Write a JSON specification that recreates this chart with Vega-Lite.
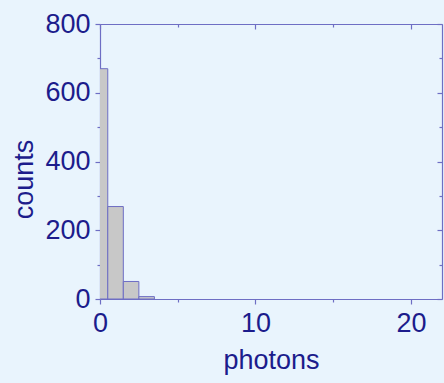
{
  "$schema": "https://vega.github.io/schema/vega-lite/v6.json",
  "width": 342,
  "height": 275,
  "autosize": {"type": "none"},
  "padding": {"left": 100, "top": 24, "right": 2, "bottom": 84},
  "background": "#e9f4fd",
  "config": {
    "view": {"stroke": null},
    "font": "Liberation Sans",
    "axis": {
      "domainColor": "#6e6ec4",
      "tickColor": "#6e6ec4",
      "labelColor": "#1c1c8c",
      "titleColor": "#1c1c8c",
      "labelFont": "Liberation Sans",
      "titleFont": "Liberation Sans",
      "labelFontSize": 27,
      "titleFontSize": 27,
      "titleFontWeight": "normal",
      "grid": false,
      "domainWidth": 1.2,
      "tickWidth": 1.2
    }
  },
  "data": {"values": [
    {"lo": -0.5, "hi": 0.5, "count": 670},
    {"lo": 0.5, "hi": 1.5, "count": 269},
    {"lo": 1.5, "hi": 2.5, "count": 51},
    {"lo": 2.5, "hi": 3.5, "count": 7}
  ]},
  "resolve": {"axis": {"x": "independent", "y": "independent"}},
  "layer": [
    {
      "mark": {"type": "bar", "clip": true, "fill": "#c8c8c8", "stroke": "#6e6ec4", "strokeWidth": 1},
      "encoding": {
        "x": {"field": "lo", "type": "quantitative", "scale": {"domain": [0, 22], "nice": false, "zero": false, "padding": 0},
          "axis": {"orient": "bottom", "values": [0, 10, 20], "tickSize": 5, "labelPadding": 6, "title": "photons", "titleY": 69, "titleBaseline": "alphabetic", "labelFlush": false, "labelOverlap": false}},
        "x2": {"field": "hi"},
        "y": {"field": "count", "type": "quantitative", "scale": {"domain": [0, 800], "nice": false, "padding": 0},
          "axis": {"orient": "left", "values": [0, 200, 400, 600, 800], "tickSize": 5, "labelPadding": 5, "title": "counts", "titleX": -68, "titleY": 155, "titleBaseline": "alphabetic", "titleAngle": -90, "titleAlign": "center", "labelFlush": false, "labelOverlap": false}},
        "y2": {"datum": 0}
      }
    },
    {
      "mark": {"type": "point", "opacity": 0},
      "encoding": {
        "x": {"field": "lo", "type": "quantitative",
          "axis": {"orient": "bottom", "values": [5, 15], "tickSize": 3, "labels": false, "domain": false, "title": null}},
        "y": {"field": "count", "type": "quantitative",
          "axis": {"orient": "left", "values": [100, 300, 500, 700], "tickSize": 3, "labels": false, "domain": false, "title": null}}
      }
    },
    {
      "mark": {"type": "point", "opacity": 0},
      "encoding": {
        "x": {"field": "lo", "type": "quantitative",
          "axis": {"orient": "top", "values": [0, 10, 20], "tickSize": -5, "labels": false, "title": null}},
        "y": {"field": "count", "type": "quantitative",
          "axis": {"orient": "right", "values": [0, 200, 400, 600, 800], "tickSize": -5, "labels": false, "title": null}}
      }
    },
    {
      "mark": {"type": "point", "opacity": 0},
      "encoding": {
        "x": {"field": "lo", "type": "quantitative",
          "axis": {"orient": "top", "values": [5, 15], "tickSize": -3, "labels": false, "domain": false, "title": null}},
        "y": {"field": "count", "type": "quantitative",
          "axis": {"orient": "right", "values": [100, 300, 500, 700], "tickSize": -3, "labels": false, "domain": false, "title": null}}
      }
    }
  ]
}
